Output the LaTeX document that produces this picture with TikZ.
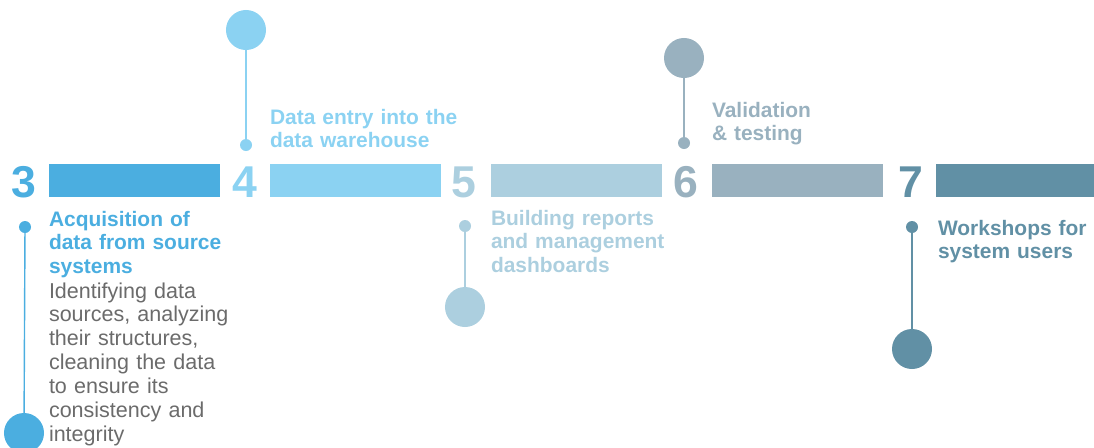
\documentclass[tikz,border=0pt]{standalone}
\usepackage{fontspec}
\setmainfont{Liberation Sans}
\usetikzlibrary{positioning}

\definecolor{stepthree}{HTML}{4BAEE0}
\definecolor{stepfour}{HTML}{8BD2F2}
\definecolor{stepfive}{HTML}{ACCFDF}
\definecolor{stepsix}{HTML}{99B1BF}
\definecolor{stepseven}{HTML}{6190A5}
\definecolor{bodygrey}{HTML}{6B6B6B}

\begin{document}
\begin{tikzpicture}[
x=0.025cm,y=-0.025cm,
every node/.style={inner sep=0pt,outer sep=0pt},
num/.style={anchor=base,font=\bfseries\fontsize{31.7}{32}\selectfont},
bar/.style={anchor=north west,minimum width=4.275cm,minimum height=0.825cm},
dot/.style={circle,minimum size=0.3cm},
pin/.style={circle,minimum size=1cm},
stem/.style={line width=1pt},
title/.style={anchor=base west,text width=6cm,align=left,font=\bfseries\fontsize{14.9}{17}\selectfont},
body/.style={anchor=base west,text width=6cm,align=left,text=bodygrey,font=\fontsize{15.3}{17}\selectfont},
]

\clip (0,0) rectangle (1094,448);

% the numbered bars
\node[num,text=stepthree] (num3) at (24,197) {3};
\node[bar,fill=stepthree] (bar3) at (49,164) {};
\node[num,text=stepfour] (num4) at (245,197) {4};
\node[bar,fill=stepfour] (bar4) at (270,164) {};
\node[num,text=stepfive] (num5) at (464,197) {5};
\node[bar,fill=stepfive] (bar5) at (491,164) {};
\node[num,text=stepsix] (num6) at (686,197) {6};
\node[bar,fill=stepsix] (bar6) at (712,164) {};
\node[num,text=stepseven] (num7) at (911,197) {7};
\node[bar,fill=stepseven] (bar7) at (936,164) {};

% pins
\node[dot,fill=stepthree] (dot3) at (25,227) {};
\node[pin,fill=stepthree] (pin3) at (24,433) {};
\node[pin,fill=stepfour] (pin4) at (246,30) {};
\node[dot,fill=stepfour] (dot4) at (246,145) {};
\node[dot,fill=stepfive] (dot5) at (465,226) {};
\node[pin,fill=stepfive] (pin5) at (465,307) {};
\node[pin,fill=stepsix] (pin6) at (684,58) {};
\node[dot,fill=stepsix] (dot6) at (684,143) {};
\node[dot,fill=stepseven] (dot7) at (912,227) {};
\node[pin,fill=stepseven] (pin7) at (912,349) {};

\draw[stem,stepthree] (dot3) -- (pin3);
\draw[stem,stepfour] (pin4) -- (dot4);
\draw[stem,stepfive] (dot5) -- (pin5);
\draw[stem,stepsix] (pin6) -- (dot6);
\draw[stem,stepseven] (dot7) -- (pin7);

% labels
\node[title,text=stepthree] (title3) at (49,226) {Acquisition of\\data from source\\systems};
\node[body] (text3) at (49,298) {Identifying data\\sources, analyzing\\their structures,\\cleaning the data\\to ensure its\\consistency and\\integrity};
\node[title,text=stepfour] (title4) at (270,124) {Data entry into the\\data warehouse};
\node[title,text=stepfive] (title5) at (491,225) {Building reports\\and management\\dashboards};
\node[title,text=stepsix] (title6) at (712,117) {Validation\\\& testing};
\node[title,text=stepseven] (title7) at (938,235) {Workshops for\\system users};

\end{tikzpicture}
\end{document}
